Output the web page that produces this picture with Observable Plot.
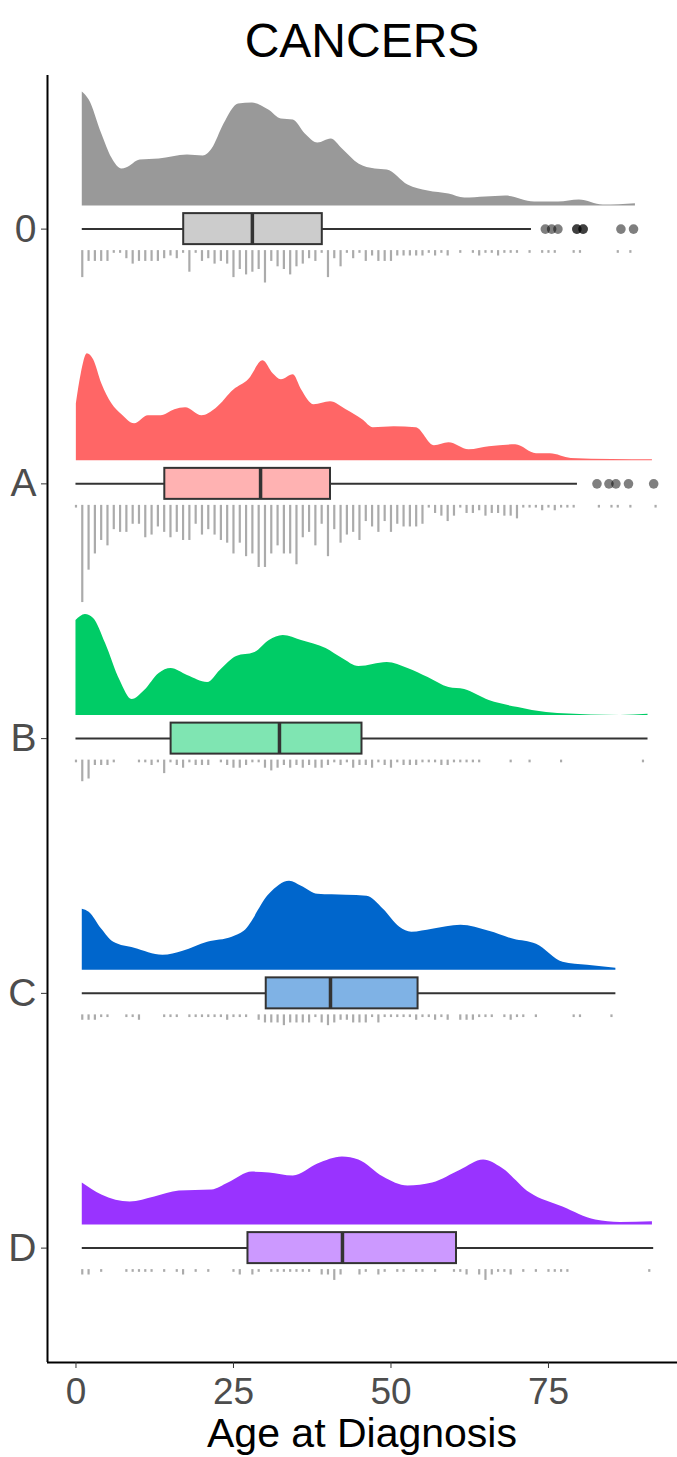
<!DOCTYPE html>
<html>
<head>
<meta charset="utf-8">
<script src="https://cdn.jsdelivr.net/npm/d3@7"></script>
<script src="https://cdn.jsdelivr.net/npm/@observablehq/plot@0.6"></script>
<style>
  html, body { margin: 0; padding: 0; background: #fff; }
  body { width: 677px; font-family: "Liberation Sans", Arial, sans-serif; }
  #title { height: 75px; line-height: 75px; padding-left: 47px; text-align: center; font-size: 48px; color: #000; }
  #title span { position: relative; top: 3px; }
  #chart svg { display: block; overflow: visible; }
  #xlab { position: relative; margin-top: -15px; height: 47px; line-height: 47px; padding-left: 47px; text-align: center; font-size: 41px; color: #000; }
</style>
</head>
<body>
<div id="title"><span>CANCERS</span></div>
<div id="chart"></div>
<div id="xlab">Age at Diagnosis</div>
<script>
// ---------- data ----------
const groups = ["0", "A", "B", "C", "D"];
const densityColors = ["#999999", "#FF6666", "#00CC66", "#0066CC", "#9933FF"];
const boxFills = ["#CCCCCC", "#FFB2B2", "#7FE5B2", "#7FB2E5", "#CC99FF"];
const xTicks = [0, 25, 50, 75];

// boxplot statistics
const q1 = [17.1, 14.1, 15.1, 30.2, 27.3];
const medians = [28.0, 29.3, 32.3, 40.4, 42.3];
const q3 = [39.1, 40.4, 45.4, 54.3, 60.4];
const whiskerLo = [1, 0, 0, 1, 1];
const whiskerHi = [72.3, 79.6, 90.8, 85.7, 91.7];
const outliers0 = [74.5, 75.5, 76.5, 79.5, 79.5, 80.5, 80.5, 86.5, 88.5];
const outliersA = [82.7, 84.6, 85.7, 87.7, 91.7];

// density curves: [age, relative density]
const density0 = [[1,114],[2.1,106],[4.1,72],[5.7,48],[7.3,37],[8.0,38],[10.2,46],[13.2,47],[17.7,51],[20.2,50],[21.6,57],[23.5,82],[25.8,102],[28,103],[30.6,96],[32.6,87],[34.5,86],[36.4,72],[38.4,63],[40.5,67],[42.3,57],[44.9,42],[47.5,37],[49.4,36],[52.7,21],[55.9,15],[59.2,12],[61.7,8],[65,9],[68.2,10],[72.8,4],[76.6,4],[79.9,6],[83.7,1],[88.8,2.4]];
const densityA = [[0.06,57],[0.84,87],[1.8,107],[2.8,101],[4.1,77],[5.7,57],[7.3,46],[9.3,37],[11.5,45],[13.5,45],[15.7,51],[17.4,53],[20,45],[22.2,52],[25.1,71],[27.4,81],[29.7,100],[31.3,87],[32.6,81],[34.5,86],[35.8,71],[37.8,56],[40.4,59],[42.9,51],[45.5,41],[47.2,33],[50.5,34],[54,33],[56.9,15],[59.2,18],[62.4,11],[65.6,14],[69.8,16],[73.1,7],[75.3,7],[78.6,2.4],[85.1,1.4],[91.5,1]];
const densityB = [[0,95],[1.5,101],[2.8,97],[4.7,72],[7,35],[8.9,16],[10.9,25],[13.2,42],[15.1,47],[17.7,40],[20.9,33],[22.9,45],[25.5,59],[28.4,63],[30.7,75],[32.9,80],[35.8,75],[39.7,67],[42.3,57],[44.9,49],[49.4,53],[52.7,47],[55.9,38],[59.2,28],[61.7,26],[65.6,15],[70.2,8],[74.7,3],[81.8,0.7],[86.4,0.2],[90.8,1.3]];
const densityC = [[1,61],[2.1,58],[4.1,41],[6,28],[9.3,22],[13.8,15],[17,19],[20.9,28],[24.8,33],[26.7,39],[30.7,76],[33.9,89],[35.8,84],[38.4,76],[42.9,75],[46.2,74],[48.8,61],[51.4,43],[53.3,38],[56.6,41],[61.1,45],[65.6,39],[69.5,31],[73.1,26],[77.3,8],[81.2,5],[85.7,2]];
const densityD = [[1,42],[4.1,30],[8.6,23],[12.5,28],[16.4,34],[21.6,35],[24.2,42],[28,53],[30.7,52],[34.5,49],[38.4,61],[42.3,68],[44.9,65],[48.8,48],[52.7,39],[56.6,42],[61.1,55],[64.7,65],[67.6,57],[72.1,32],[77.3,18],[82.5,5],[86.4,2.7],[91.5,3.3]];

// raw-data rug: [age, number of cases]
const rug0 = [[1,10],[2,4],[3,4],[4,4],[5,4],[6,1],[7,1],[8,3],[9,5],[10,4],[11,4],[12,4],[13,4],[14,3],[15,2],[16,3],[17,1],[18,8],[19,1],[20,4],[21,3],[22,5],[23,4],[24,5],[25,10],[26,7],[27,9],[28,8],[29,7],[30,12],[31,4],[32,6],[33,7],[34,9],[35,6],[36,5],[37,3],[38,4],[39,1],[40,10],[41,3],[42,6],[43,1],[44,3],[45,1],[46,4],[47,2],[48,4],[49,4],[50,4],[51,2],[52,2],[53,2],[54,2],[55,2],[56,1],[57,2],[58,1],[59,2],[61,1],[63,1],[64,2],[65,1],[66,1],[67,2],[68,1],[69,1],[70,1],[72,1],[74,1],[75,1],[76,1],[79,1],[80,1],[86,1],[88,1]];
const rugA = [[0,1],[1,36],[2,24],[3,18],[4,13],[5,15],[6,9],[7,10],[8,10],[9,7],[10,7],[11,12],[12,11],[13,8],[14,10],[15,12],[16,10],[17,13],[18,13],[19,7],[20,11],[21,9],[22,11],[23,13],[24,14],[25,18],[26,14],[27,19],[28,18],[29,23],[30,23],[31,18],[32,15],[33,18],[34,18],[35,22],[36,12],[37,10],[38,15],[39,7],[40,19],[41,9],[42,14],[43,11],[44,10],[45,13],[46,6],[47,8],[48,10],[49,6],[50,10],[51,7],[52,8],[53,8],[54,8],[55,7],[56,1],[57,3],[58,4],[59,6],[60,4],[61,1],[62,3],[63,3],[64,2],[65,4],[66,3],[67,3],[68,4],[69,4],[70,5],[71,1],[72,1],[73,1],[74,2],[75,1],[76,2],[77,1],[78,1],[79,1],[83,1],[85,1],[86,1],[88,1],[92,1]];
const rugB = [[0,1],[1,8],[2,7],[3,2],[4,2],[5,2],[6,1],[10,1],[11,1],[12,2],[13,1],[14,5],[15,1],[16,2],[17,3],[18,1],[19,2],[20,2],[21,2],[23,1],[24,2],[25,3],[26,3],[27,2],[28,1],[29,1],[30,3],[31,4],[32,3],[33,2],[34,3],[35,2],[36,3],[37,2],[38,3],[39,3],[40,2],[41,1],[42,2],[43,1],[44,3],[45,2],[46,2],[47,3],[48,1],[49,2],[50,3],[51,1],[52,2],[53,2],[54,2],[55,1],[56,1],[57,1],[58,2],[59,2],[60,1],[61,1],[62,1],[63,1],[64,1],[69,1],[72,1],[77,1],[90,1]];
const rugC = [[1,2],[2,2],[3,2],[4,1],[5,1],[8,1],[9,1],[10,2],[14,1],[15,1],[16,1],[18,1],[19,1],[20,1],[21,1],[22,1],[23,1],[24,2],[25,1],[26,1],[27,1],[29,2],[30,3],[31,3],[32,3],[33,4],[34,3],[35,3],[36,3],[37,3],[38,1],[39,3],[40,4],[41,3],[42,2],[43,2],[44,3],[45,3],[46,3],[47,1],[48,3],[49,1],[50,1],[51,1],[52,1],[53,1],[54,2],[55,1],[56,1],[57,2],[58,1],[59,2],[61,2],[62,2],[63,2],[64,1],[65,1],[66,1],[68,1],[69,2],[70,1],[71,1],[73,1],[79,1],[80,1],[85,1]];
const rugD = [[1,2],[2,2],[4,1],[8,1],[9,1],[10,1],[11,1],[12,1],[14,1],[16,1],[17,2],[19,1],[21,1],[25,1],[26,2],[28,2],[29,1],[31,1],[32,1],[33,1],[34,1],[35,1],[36,1],[37,1],[39,2],[40,2],[41,4],[42,2],[45,2],[46,1],[48,2],[49,1],[51,1],[52,1],[54,1],[55,1],[57,1],[60,1],[61,1],[62,2],[64,2],[65,4],[66,2],[67,1],[68,1],[69,2],[71,1],[73,1],[75,1],[76,1],[77,1],[78,1],[91,1]];

// ---------- layout helpers ----------
const densities = [density0, densityA, densityB, densityC, densityD];
const rugs = [rug0, rugA, rugB, rugC, rugD];
const outliers = [outliers0, outliersA, [], [], []];

const PX = 1 / 254.75;          // y-units per pixel
const BASE = 23 * PX;           // density baseline above group centre
const DENS = 1 * PX;            // density scale
const BOXH = 15.5 * PX;         // half box height
const RUGTOP = 21.5 * PX;       // rug start below group centre
const RUGUNIT = 2.7 * PX;       // rug length per case

const xDomain = [-4.52, 95.48];
const yDomain = [4.449, -0.603];

const idx = groups.map((_, i) => i);

const densityMarks = densities.map((arr, i) =>
  Plot.areaY(arr.map(([age, h]) => ({age, y1: i - BASE, y2: i - BASE - h * DENS})), {
    x: "age", y1: "y1", y2: "y2", fill: densityColors[i], curve: "monotone-x"
  })
);

const rugRows = rugs.flatMap((arr, i) => arr.map(([age, n]) => ({age, y1: i + RUGTOP, y2: i + RUGTOP + n * RUGUNIT})));
const outlierRows = outliers.flatMap((arr, i) => arr.map(age => ({age, g: i})));

const plot = Plot.plot({
  width: 677,
  height: 1350,
  marginLeft: 47,
  marginRight: 0,
  marginTop: 0,
  marginBottom: 63,
  style: {fontFamily: "'Liberation Sans', Arial, sans-serif", background: "transparent", overflow: "visible"},
  x: {domain: xDomain, label: null},
  y: {domain: yDomain, label: null},
  color: {type: "identity"},
  marks: [
    ...densityMarks,
    // whiskers
    Plot.ruleY(idx, {y: i => i, x1: i => whiskerLo[i], x2: i => q1[i], stroke: "#333", strokeWidth: 2}),
    Plot.ruleY(idx, {y: i => i, x1: i => q3[i], x2: i => whiskerHi[i], stroke: "#333", strokeWidth: 2}),
    // boxes
    Plot.rect(idx, {x1: i => q1[i], x2: i => q3[i], y1: i => i - BOXH, y2: i => i + BOXH, fill: i => boxFills[i], stroke: "#333", strokeWidth: 2}),
    Plot.ruleX(idx, {x: i => medians[i], y1: i => i - BOXH, y2: i => i + BOXH, stroke: "#333", strokeWidth: 3.5}),
    // outliers
    Plot.dot(outlierRows, {x: "age", y: "g", r: 4.8, fill: "#000", fillOpacity: 0.5, stroke: "none"}),
    // rug
    Plot.ruleX(rugRows, {x: "age", y1: "y1", y2: "y2", stroke: "#ABABAB", strokeWidth: 2.2}),
    // axes
    Plot.ruleX([xDomain[0]], {stroke: "#000", strokeWidth: 2}),
    Plot.ruleY([yDomain[0]], {stroke: "#000", strokeWidth: 2}),
    Plot.axisX({ticks: xTicks, tickSize: 6, tickPadding: 9, fontSize: 37, fill: "#4d4d4d", stroke: "#333", label: null}),
    Plot.axisY({ticks: idx, tickFormat: i => groups[i], tickSize: 6, tickPadding: 5, fontSize: 39, fill: "#4d4d4d", stroke: "#333", label: null})
  ]
});
document.getElementById("chart").appendChild(plot);
</script>
</body>
</html>
